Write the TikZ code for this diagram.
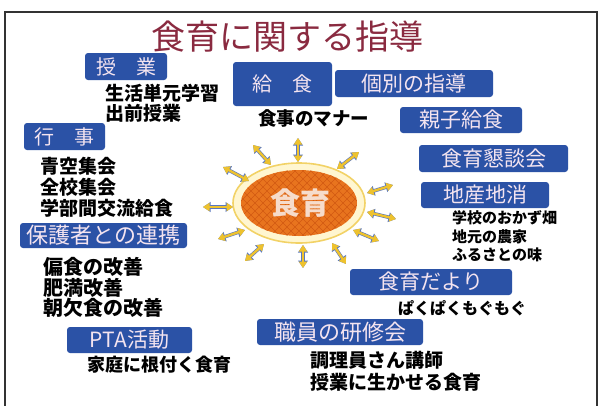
\documentclass[tikz,border=0pt]{standalone}
\usepackage{fontspec}
\setmainfont{Noto Sans CJK JP}
\usetikzlibrary{arrows.meta}
\definecolor{boxblue}{HTML}{2B52A6}
\definecolor{boxtext}{HTML}{F4E4F0}
\definecolor{titlered}{HTML}{8A2A40}
\definecolor{sunyel}{HTML}{FFF6D0}
\definecolor{sunrim}{HTML}{F2D266}
\definecolor{sunor}{HTML}{E8741E}
\definecolor{sundark}{HTML}{D25A12}
\definecolor{suntext}{HTML}{F6DCCB}
\definecolor{arrgold}{HTML}{EEC22E}
\definecolor{arrblue}{HTML}{5A78C0}
\tikzset{
  bbox/.style={fill=boxblue, rounded corners=3pt, text=boxtext, inner sep=0pt,
    font=\fontsize{21}{21}\selectfont},
  itemtxt/.style={anchor=west, inner sep=0pt, text=black,
    font=\bfseries\fontsize{19}{19}\selectfont},
  smalltxt/.style={anchor=west, inner sep=0pt, text=black,
    font=\bfseries\fontsize{15}{15}\selectfont},
  sunarrow/.style={{Triangle[length=6.5pt,width=8pt]}-{Triangle[length=6.5pt,width=8pt]},
    line width=2.4pt, draw=arrgold, fill=arrgold,
    preaction={draw=arrblue, line width=3.6pt, fill=arrblue,
      {Triangle[length=7.5pt,width=9.5pt]}-{Triangle[length=7.5pt,width=9.5pt]}}}
}
\begin{document}
\begin{tikzpicture}[x=1pt,y=-1pt]
\useasboundingbox (0,0) rectangle (600,405);
\clip (0,0) rectangle (600,405);
\fill[white] (0,0) rectangle (600,405);
% frame
\draw[line width=1.8pt, gray!40!black] (5,12) rectangle (597,420);
% title
\node[text=titlered, font=\fontsize{34}{34}\selectfont, inner sep=0pt] (title) at (287,37) {食育に関する指導};

% boxes
\node[bbox, minimum width=82pt, minimum height=27pt, font=\fontsize{20}{20}\selectfont] (jugyo) at (126,66.5) {授　業};
\node[bbox, minimum width=99pt, minimum height=44pt, font=\fontsize{20}{20}\selectfont] (kyushoku) at (282.5,84) {給　食};
\node[bbox, minimum width=158pt, minimum height=27pt] (kobetsu) at (414,83.5) {個別の指導};
\node[bbox, minimum width=122pt, minimum height=26pt] (oyako) at (461,120) {親子給食};
\node[bbox, minimum width=149pt, minimum height=27pt] (kondan) at (493.5,158.5) {食育懇談会};
\node[bbox, minimum width=128pt, minimum height=26pt] (chisan) at (485,195) {地産地消};
\node[bbox, minimum width=81pt, minimum height=27pt, font=\fontsize{20}{20}\selectfont] (gyoji) at (64.5,136.5) {行　事};
\node[bbox, minimum width=167pt, minimum height=25pt, font=\fontsize{22}{22}\selectfont] (hogosha) at (103.5,235.5) {保護者との連携};
\node[bbox, minimum width=125pt, minimum height=26pt] (pta) at (129.5,340) {PTA活動};
\node[bbox, minimum width=166pt, minimum height=26pt, font=\fontsize{22}{22}\selectfont] (shokuin) at (340,332) {職員の研修会};
\node[bbox, minimum width=162pt, minimum height=26pt] (dayori) at (431,282) {食育だより};

% texts
\node[itemtxt] (t1) at (105,93) {生活単元学習};
\node[itemtxt] (t2) at (105,113) {出前授業};
\node[itemtxt, font=\bfseries\fontsize{18.5}{18.5}\selectfont] (t3) at (258,118) {食事のマナー};
\node[itemtxt] (t4) at (40,166) {青空集会};
\node[itemtxt] (t5) at (40,187) {全校集会};
\node[itemtxt] (t6) at (40,208) {学部間交流給食};
\node[itemtxt, font=\bfseries\fontsize{20}{20}\selectfont] (t7) at (43,267) {偏食の改善};
\node[itemtxt, font=\bfseries\fontsize{20}{20}\selectfont] (t8) at (43,288) {肥満改善};
\node[itemtxt, font=\bfseries\fontsize{20}{20}\selectfont] (t9) at (43,308) {朝欠食の改善};
\node[itemtxt, font=\bfseries\fontsize{18}{18}\selectfont] (t10) at (87,365) {家庭に根付く食育};
\node[itemtxt] (t11) at (310,360) {調理員さん講師};
\node[itemtxt] (t12) at (310,382) {授業に生かせる食育};
\node[itemtxt, font=\bfseries\fontsize{16}{16}\selectfont] (t13) at (398,308) {ぱくぱくもぐもぐ};
\node[smalltxt] (t14) at (452,218) {学校のおかず畑};
\node[smalltxt] (t15) at (452,237) {地元の農家};
\node[smalltxt] (t16) at (452,255) {ふるさとの味};

% sun
\fill[sunyel, draw=sunrim, line width=1.6pt] (299,203) ellipse [x radius=66, y radius=40];
\begin{scope}
\clip (299,203) ellipse [x radius=58, y radius=33];
\fill[sunor] (230,160) rectangle (370,250);
\foreach \k in {-140,-132,...,140} {
  \draw[sundark, line width=0.6pt] (299+\k-50,153) -- (299+\k+50,253);
  \draw[sundark, line width=0.6pt] (299+\k+50,153) -- (299+\k-50,253);
}
\end{scope}
\node[text=suntext, font=\bfseries\fontsize{30}{30}\selectfont, inner sep=0pt] (sun) at (300,203) {食育};

% arrows
\coordinate (a1o) at (298,138); \coordinate (a1i) at (298,162);
\coordinate (a2o) at (253,145); \coordinate (a2i) at (271,165);
\coordinate (a3o) at (223,167); \coordinate (a3i) at (249,181);
\coordinate (a4o) at (203,207); \coordinate (a4i) at (233,207);
\coordinate (a5o) at (218,239); \coordinate (a5i) at (245,230);
\coordinate (a6o) at (245,261); \coordinate (a6i) at (264,244);
\coordinate (a7o) at (303,268); \coordinate (a7i) at (303,245);
\coordinate (a8o) at (346,264); \coordinate (a8i) at (332,243);
\coordinate (a9o) at (379,241); \coordinate (a9i) at (353,230);
\coordinate (a10o) at (396,219); \coordinate (a10i) at (367,212);
\coordinate (a11o) at (393,185); \coordinate (a11i) at (367,193);
\coordinate (a12o) at (359,152); \coordinate (a12i) at (337,169);
\foreach \i in {1,...,12} {
  \draw[sunarrow] (a\i o) -- (a\i i);
}
\end{tikzpicture}
\end{document}
